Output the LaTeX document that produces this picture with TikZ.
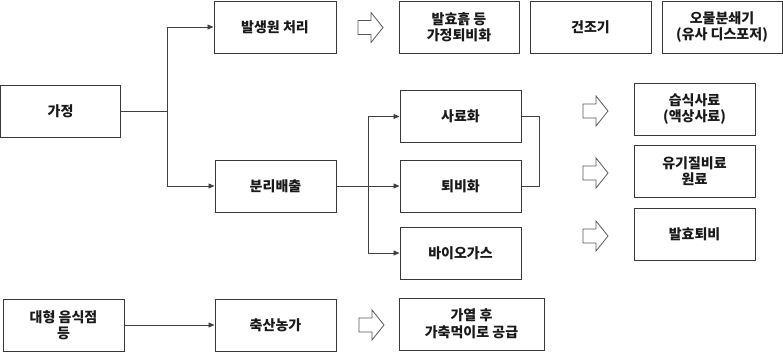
\documentclass[tikz,border=0pt]{standalone}
\usepackage{fontspec}
\setmainfont{Noto Sans CJK KR}
\usetikzlibrary{arrows.meta}
\begin{document}
\begin{tikzpicture}[x=1pt,y=-1pt,
  box/.style={draw=black!78, line width=1pt, minimum width=121pt, minimum height=52pt, inner sep=0pt,
    align=center, font=\fontsize{14}{16.5}\selectfont\bfseries, text=black!90},
  link/.style={draw=black!75, line width=0.8pt},
  arr/.style={link, -{Triangle[length=6pt,width=5pt]}},
  hollowarrow/.pic={\draw[draw=black!65, line width=0.8pt, fill=white]
     (0,-7) -- (13,-7) -- (13,-15) -- (25,0) -- (13,15) -- (13,7) -- (0,7) -- cycle;}]
\useasboundingbox (0,0) rectangle (783,356);
% nodes
\node[box, minimum width=120pt] (gajeong) at (60.5,111) {가정};
\node[box, minimum width=122pt] (balsaeng) at (275,27) {발생원 처리};
\node[box] (bunri) at (275.5,186) {분리배출};
\node[box, minimum width=120pt] (balhyo) at (459,27) {발효흙 등\\가정퇴비화};
\node[box] (geonjo) at (590.5,27) {건조기};
\node[box, minimum width=120pt] (omul) at (722,27) {오물분쇄기\\(유사 디스포저)};
\node[box] (saryo) at (460.5,116.5) {사료화};
\node[box] (toebi) at (460.5,186) {퇴비화};
\node[box] (bio) at (460.5,253) {바이오가스};
\node[box] (seupsik) at (694.5,109) {습식사료\\(액상사료)};
\node[box] (yugi) at (694.5,171) {유기질비료\\원료};
\node[box] (balhyotoebi) at (694.5,234) {발효퇴비};
\node[box] (daehyeong) at (63.5,325) {대형 음식점\\등};
\node[box] (chuksan) at (275.5,325) {축산농가};
\node[box, minimum width=145pt] (gayeol) at (471.5,324) {가열 후\\가축먹이로 공급};
% connectors
\coordinate (t1) at (167,111);
\draw[link] (gajeong.east) -- (t1);
\draw[arr] (t1) |- (balsaeng.west);
\draw[arr] (t1) |- (bunri.west);
\draw[arr] (bunri.east) -- (toebi.west);
\coordinate (t2) at (368,186);
\draw[arr] (t2) |- (saryo.west);
\draw[arr] (t2) |- (bio.west);
\draw[link] (saryo.east) -- ++(18,0) |- (toebi.east);
\draw[arr] (daehyeong.east) -- (chuksan.west);
% hollow arrows
\pic at (358,27.5) {hollowarrow};
\pic at (583,111) {hollowarrow};
\pic at (583,173) {hollowarrow};
\pic at (583,236) {hollowarrow};
\pic at (359,325) {hollowarrow};
\end{tikzpicture}
\end{document}
